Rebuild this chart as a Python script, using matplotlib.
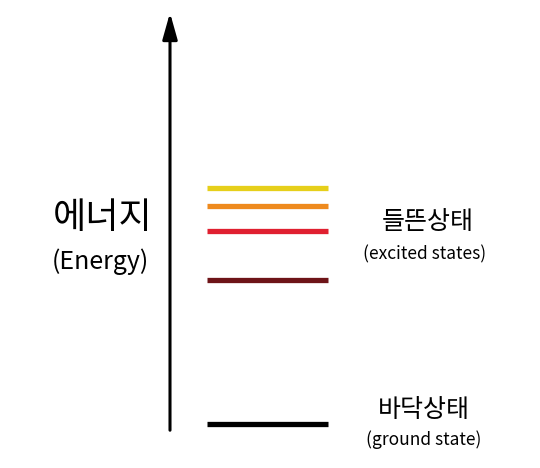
import matplotlib.pyplot as plt

plt.rcParams['font.family'] = ['Noto Sans CJK KR', 'DejaVu Sans']

# energy levels in pixel-like units (top = high energy)
level_y = [188, 206, 231, 280, 424]
level_colors = ["#e6cf1a", "#ee8a1e", "#e02030", "#6e1418", "#000000"]
level_x = (207, 328)

fig = plt.figure(figsize=(5.4, 4.68), dpi=100)
ax = fig.add_axes([0, 0, 1, 1])
ax.set_xlim(0, 540)
ax.set_ylim(468, 0)
ax.axis("off")

for y, c in zip(level_y, level_colors):
    ax.plot(level_x, [y, y], color=c, lw=3.8, solid_capstyle="butt")

ax.annotate("", xy=(170, 10), xytext=(170, 433),
            arrowprops=dict(arrowstyle="-|>,head_length=1.6,head_width=0.45",
                            color="black", lw=2.2))

ax.text(103, 218, "에너지", fontsize=26, ha="center", va="center")
ax.text(100, 262, "(Energy)", fontsize=18, ha="center", va="center")
ax.text(428, 222, "들뜬상태", fontsize=18, ha="center", va="center")
ax.text(425, 254, "(excited states)", fontsize=12.5, ha="center", va="center")
ax.text(424, 410, "바닥상태", fontsize=18, ha="center", va="center")
ax.text(424, 440, "(ground state)", fontsize=12.5, ha="center", va="center")

fig.savefig("out.png", dpi=100)
